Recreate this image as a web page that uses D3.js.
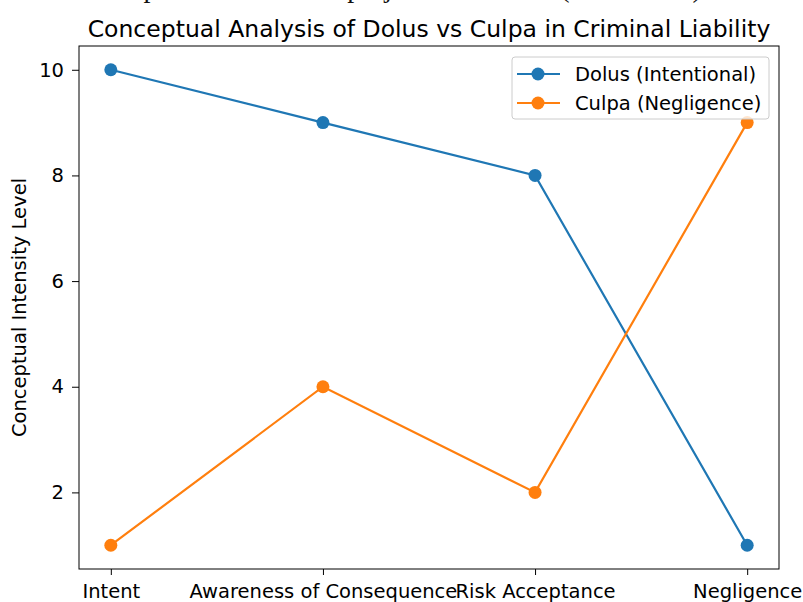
<!DOCTYPE html>
<meta charset="utf-8">
<script src="https://d3js.org/d3.v7.min.js"></script>
<style>
  body { margin: 0; background: #fff; }
  text { font-family: "DejaVu Sans", sans-serif; }
</style>
<body>
<div id="chart"></div>
<script>
const categories = ["Intent", "Awareness of Consequence", "Risk Acceptance", "Negligence"];
const dolus = [10, 9, 8, 1];
const culpa = [1, 4, 2, 9];
const yTicks = [2, 4, 6, 8, 10];
const seriesNames = ["Dolus (Intentional)", "Culpa (Negligence)"];
const colors = ["#1f77b4", "#ff7f0e"];

const W = 803, H = 602;
const margin = {top: 46, right: 24, bottom: 33, left: 79};
const width = W - margin.left - margin.right,
      height = H - margin.top - margin.bottom;

const svg = d3.select("#chart").append("svg")
    .attr("width", W).attr("height", H)
    .style("display", "block");

// caption of the page above, mostly cut off at the top edge
svg.append("text")
    .attr("x", 72).attr("y", -3)
    .style("font-family", "'Liberation Serif', serif")
    .style("font-size", "28px")
    .attr("fill", "#111")
    .text("Conceptual Chart of the project Evaluation (Illustration)");

const g = svg.append("g").attr("transform", `translate(${margin.left},${margin.top})`);

const x = d3.scaleLinear().domain([-0.15, 3.15]).range([0, width]);
const y = d3.scaleLinear().domain([0.55, 10.45]).range([height, 0]);

const xAxis = g.append("g").attr("transform", `translate(0,${height})`)
    .call(d3.axisBottom(x).tickValues(d3.range(categories.length))
      .tickFormat(i => categories[i]).tickSize(6).tickPadding(9));
const yAxis = g.append("g")
    .call(d3.axisLeft(y).tickValues(yTicks).tickSize(7).tickPadding(8));

[xAxis, yAxis].forEach(a => {
  a.select(".domain").remove();
  a.selectAll("line").attr("stroke", "#000").attr("stroke-width", 1);
  a.selectAll("text").attr("fill", "#000").style("font-size", "19.5px");
});

g.append("rect").attr("width", width).attr("height", height)
    .attr("fill", "none").attr("stroke", "#000").attr("stroke-width", 1);

const line = d3.line().x((d, i) => x(i)).y(d => y(d));
[dolus, culpa].forEach((s, k) => {
  g.append("path").datum(s).attr("d", line)
      .attr("fill", "none").attr("stroke", colors[k]).attr("stroke-width", 2.2);
  g.selectAll(null).data(s).enter().append("circle")
      .attr("cx", (d, i) => x(i)).attr("cy", d => y(d)).attr("r", 6.5)
      .attr("fill", colors[k]);
});

// title
svg.append("text")
    .attr("x", margin.left + width / 2).attr("y", 37)
    .attr("text-anchor", "middle")
    .style("font-size", "23.5px")
    .text("Conceptual Analysis of Dolus vs Culpa in Criminal Liability");

// y label
svg.append("text")
    .attr("transform", `translate(26,${margin.top + height / 2}) rotate(-90)`)
    .attr("text-anchor", "middle")
    .style("font-size", "19.5px")
    .text("Conceptual Intensity Level");

// legend
const lg = g.append("g").attr("transform", `translate(${width - 267},${11})`);
lg.append("rect").attr("width", 257).attr("height", 62).attr("rx", 3)
    .attr("fill", "#fff").attr("fill-opacity", 0.8)
    .attr("stroke", "#ccc");
seriesNames.forEach((n, k) => {
  const row = lg.append("g").attr("transform", `translate(0,${17 + k * 29})`);
  row.append("line").attr("x1", 5).attr("x2", 48)
      .attr("stroke", colors[k]).attr("stroke-width", 2.2);
  row.append("circle").attr("cx", 26).attr("r", 6.5).attr("fill", colors[k]);
  row.append("text").attr("x", 63).attr("dy", "0.35em")
      .style("font-size", "19.5px").text(n);
});
</script>
</body>
